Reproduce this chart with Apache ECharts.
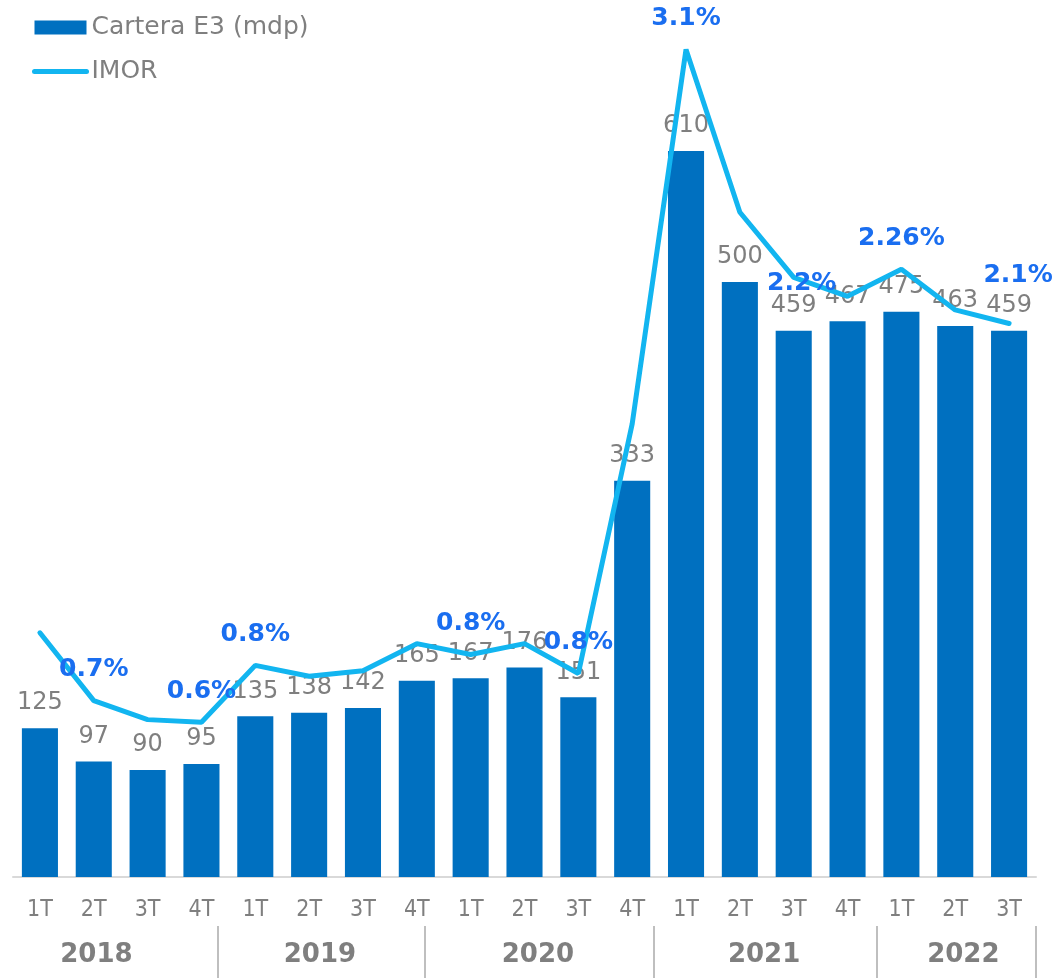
<!DOCTYPE html>
<html>
<head>
<meta charset="UTF-8">
<style>
	html, body { margin: 0; padding: 0; background: #fff; }
	#main { width: 1056px; height: 978px; }
</style>
</head>
<body>
	<div id="main"></div>
	<script src="https://cdn.jsdelivr.net/npm/echarts@6/dist/echarts.min.js"></script>
<script>
	// datos
	var trimestres = ['1T','2T','3T','4T','1T','2T','3T','4T','1T','2T','3T','4T','1T','2T','3T','4T','1T','2T','3T'];
	var anios = ['2018','2019','2020','2021','2022'];
	var carteraE3 = [125, 97, 90, 95, 135, 138, 142, 165, 167, 176, 151, 333, 610, 500, 459, 467, 475, 463, 459];
	var imor = [0.95, 0.70, 0.63, 0.62, 0.83, 0.79, 0.81, 0.91, 0.87, 0.91, 0.80, 1.72, 3.10, 2.50, 2.26, 2.19, 2.29, 2.14, 2.09];
	var imorEtiquetas = [null, '0.7%', null, '0.6%', '0.8%', null, null, null, '0.8%', null, '0.8%', null, '3.1%', null, '2.2%', null, '2.26%', null, '2.1%'];

	var gris = '#7f7f7f';
	var azulLinea = '#12b5f0';
	var fuente = 'DejaVu Sans';

	// posicion de los años y separadores (en unidades de categoria)
	var posAnios = [1.55, 5.7, 9.75, 13.95, 17.65];
	var posSeparadores = [3.8, 7.65, 11.9, 16.05, 19];

	var datosImor = imor.map(function (v, i) {
		if (!imorEtiquetas[i]) return v;
		var lbl = { show: true, formatter: imorEtiquetas[i] };
		if (i === 14) lbl.offset = [8, 37];
		if (i === 18) lbl.offset = [9, -17];
		return { value: v, symbol: 'circle', symbolSize: 1, label: lbl };
	});

	var myChart = echarts.init(document.getElementById('main'));
	myChart.setOption({
		animation: false,
		legend: {
			orient: 'vertical',
			left: 32,
			top: 15,
			padding: 0,
			itemWidth: 52,
			itemHeight: 14,
			itemGap: 19,
			textStyle: { fontFamily: fuente, fontSize: 25, lineHeight: 25, color: gris },
			data: [
				{ name: 'Cartera E3 (mdp)', icon: 'rect' },
				{ name: 'IMOR', itemStyle: { opacity: 0 }, lineStyle: { width: 5, cap: 'round', color: azulLinea } }
			]
		},
		grid: { left: 13, right: 20, top: 44, bottom: 101 },
		xAxis: [{
			type: 'category',
			data: trimestres,
			axisLine: { lineStyle: { color: '#d9d9d9', width: 2 } },
			axisTick: { show: false },
			axisLabel: {
				interval: 0,
				margin: 22,
				color: gris,
				fontFamily: "'DejaVu Sans Condensed', 'DejaVu Sans'",
				fontSize: 23
			}
		}, {
			type: 'value',
			min: 0,
			max: 19,
			position: 'bottom',
			offset: 49,
			axisLine: { show: false },
			splitLine: { show: false },
			axisTick: {
				show: true,
				length: 52,
				customValues: posSeparadores,
				lineStyle: { color: '#bfbfbf', width: 2 }
			},
			axisLabel: {
				customValues: posAnios,
				margin: 16,
				color: gris,
				fontFamily: fuente,
				fontWeight: 'bold',
				fontSize: 26,
				formatter: function (v, idx) {
					var k = posAnios.indexOf(v);
					return anios[k >= 0 ? k : idx];
				}
			}
		}],
		yAxis: [{
			type: 'value',
			min: 0,
			max: 700,
			show: false,
			splitLine: { show: false }
		}, {
			type: 'value',
			min: 0.05,
			max: 3.12,
			show: false,
			splitLine: { show: false }
		}],
		series: [{
			name: 'Cartera E3 (mdp)',
			type: 'bar',
			data: carteraE3,
			barCategoryGap: '33%',
			itemStyle: { color: '#0070c0' },
			label: {
				show: true,
				position: 'top',
				distance: 13,
				color: gris,
				fontFamily: fuente,
				fontSize: 24
			}
		}, {
			name: 'IMOR',
			type: 'line',
			yAxisIndex: 1,
			data: datosImor,
			symbol: 'none',
			lineStyle: { color: azulLinea, width: 5, cap: 'round' },
			itemStyle: { color: azulLinea },
			label: {
				position: 'top',
				distance: 18,
				color: '#1a6ef0',
				fontFamily: fuente,
				fontWeight: 'bold',
				fontSize: 25
			}
		}]
	});
</script>
</body>
</html>
